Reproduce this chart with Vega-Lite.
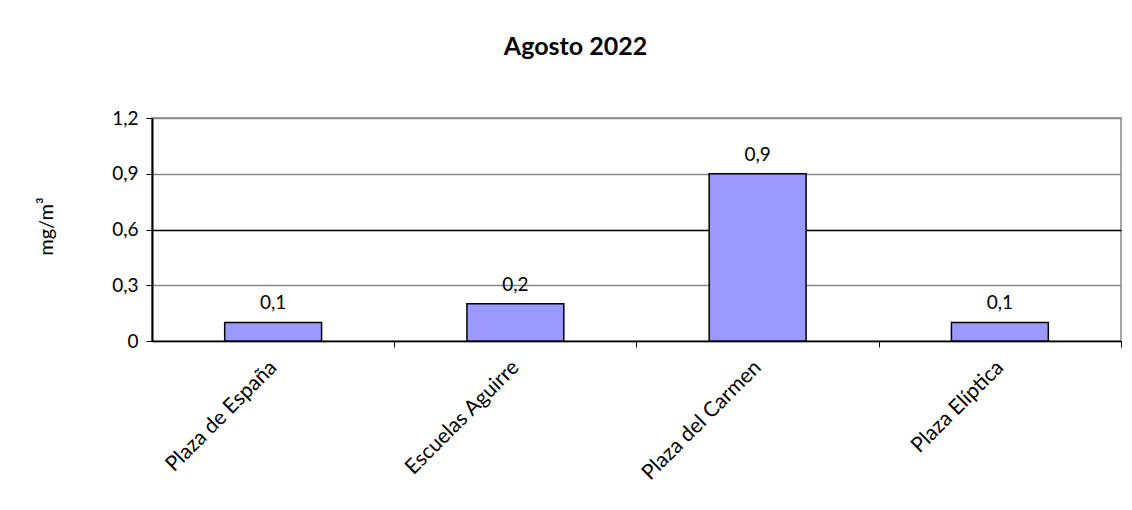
{
  "$schema": "https://vega.github.io/schema/vega-lite/v6.json",
  "description": "Agosto 2022 - concentraciones por estación",
  "width": 969,
  "height": 223,
  "autosize": "none",
  "padding": {"left": 152, "top": 118, "right": 11, "bottom": 169},
  "background": "white",
  "title": {
    "text": "Agosto 2022",
    "font": "Lato",
    "fontSize": 25,
    "fontWeight": "bold",
    "color": "black",
    "anchor": "middle",
    "dx": -61,
    "offset": 49
  },
  "data": {
    "values": [
      {"estacion": "Plaza de España", "valor": 0.1},
      {"estacion": "Escuelas Aguirre", "valor": 0.2},
      {"estacion": "Plaza del Carmen", "valor": 0.9},
      {"estacion": "Plaza Elíptica", "valor": 0.1}
    ]
  },
  "encoding": {
    "x": {
      "field": "estacion",
      "type": "nominal",
      "sort": null,
      "scale": {"paddingInner": 0, "paddingOuter": 0},
      "axis": {
        "title": null,
        "tickOffset": 121,
        "labelOffset": -121,
        "labelAngle": -45,
        "labelAlign": "right",
        "labelBaseline": "middle",
        "labelPadding": 17,
        "labelFont": "Lato",
        "labelFontSize": 21,
        "labelColor": "black",
        "domainColor": "black",
        "domainWidth": 1.5,
        "tickColor": "black",
        "tickSize": 6,
        "grid": false
      }
    },
    "y": {
      "field": "valor",
      "type": "quantitative",
      "scale": {"domain": [0, 1.2], "nice": false},
      "axis": {
        "title": "mg/m³",
        "titleFont": "Lato",
        "titleFontSize": 20,
        "titleFontWeight": "normal",
        "titleColor": "black",
        "titleX": -106,
        "titleY": 108,
        "titleAngle": -90,
        "titleBaseline": "middle",
        "titleAlign": "center",
        "values": [0, 0.3, 0.6, 0.9, 1.2],
        "format": ".1~f",
        "labelFont": "Lato",
        "labelFontSize": 19,
        "labelColor": "black",
        "labelPadding": 8,
        "domainColor": "black",
        "domainWidth": 2,
        "tickColor": "black",
        "tickSize": 6,
        "grid": true,
        "gridColor": {"condition": {"test": "datum.value == 0.6", "value": "black"}, "value": "#888888"},
        "gridWidth": 1.5
      }
    }
  },
  "layer": [
    {
      "mark": {
        "type": "bar",
        "width": {"band": 0.4},
        "color": "#9999FF",
        "stroke": "black",
        "strokeWidth": 1.5
      }
    },
    {
      "mark": {
        "type": "text",
        "baseline": "alphabetic",
        "dy": -13,
        "font": "Lato",
        "fontSize": 19,
        "color": "black"
      },
      "encoding": {
        "text": {"field": "valor", "type": "quantitative", "format": ".1f"}
      }
    }
  ],
  "config": {
    "locale": {
      "number": {"decimal": ",", "thousands": ".", "grouping": [3], "currency": ["", " €"]}
    },
    "view": {"stroke": "#888888", "strokeWidth": 1.5}
  }
}
